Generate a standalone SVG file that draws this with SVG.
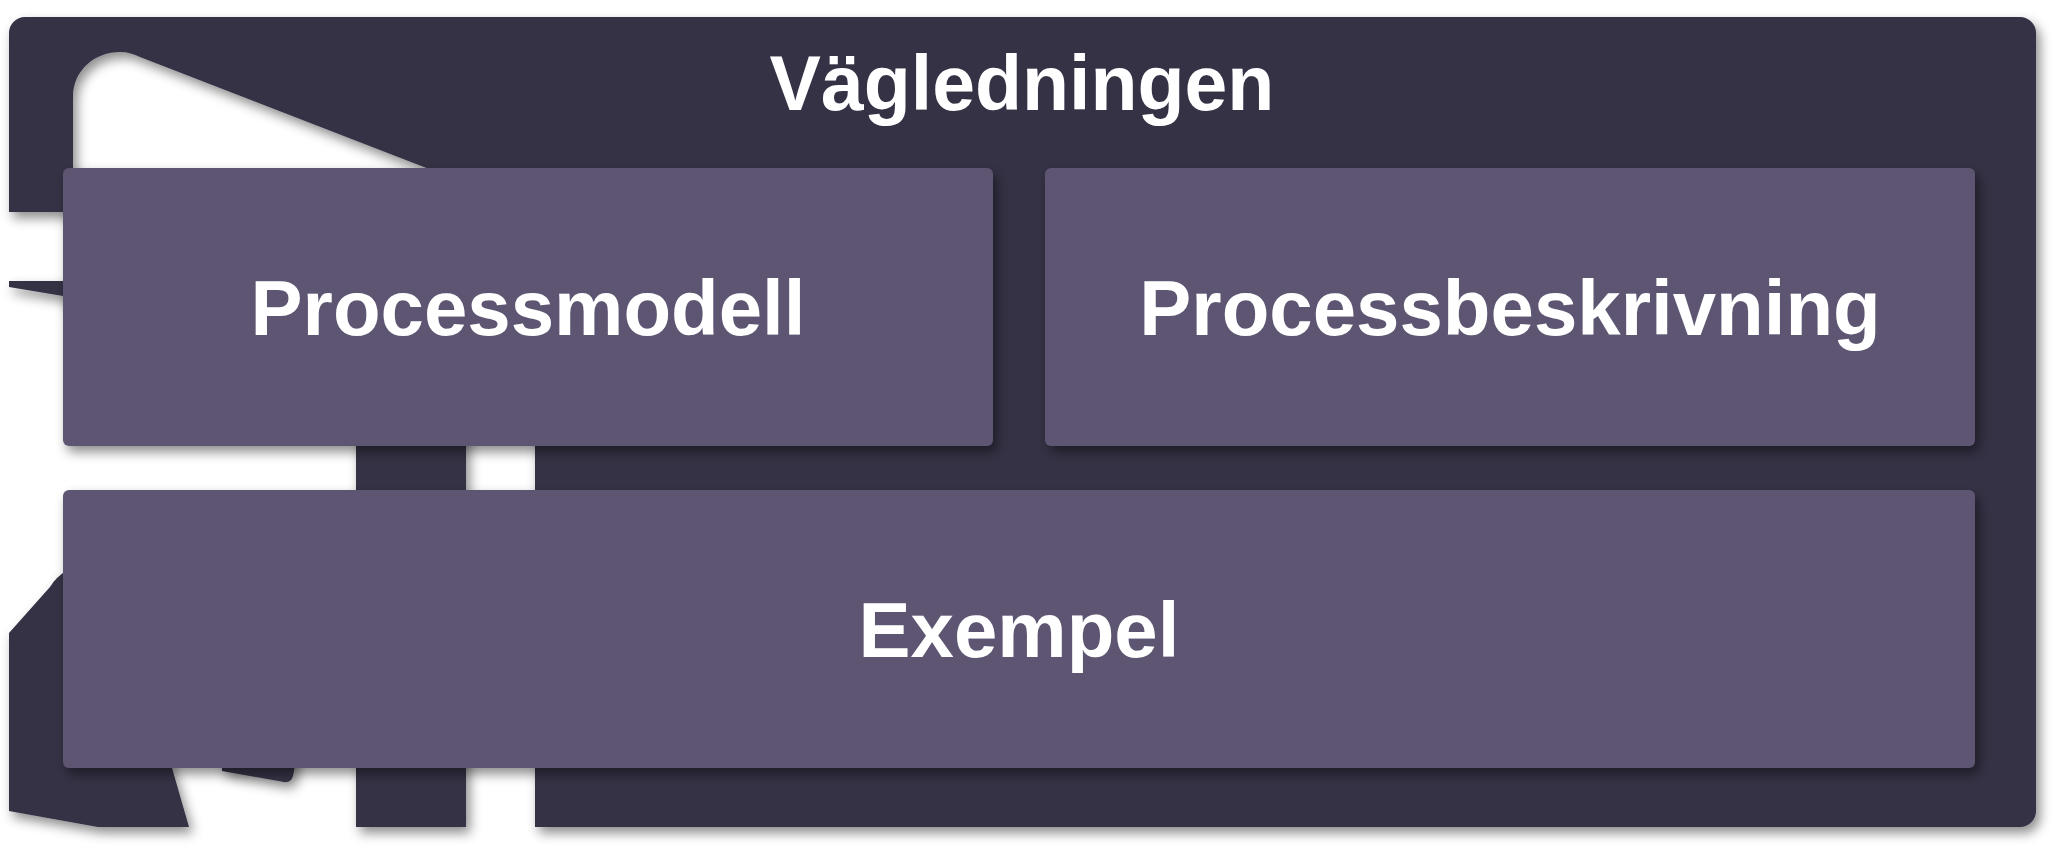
<svg xmlns="http://www.w3.org/2000/svg" width="2066" height="856" viewBox="0 0 2066 856">
<defs>
<filter id="sh" x="-10%" y="-10%" width="120%" height="130%">
<feDropShadow dx="4" dy="6" stdDeviation="6" flood-color="#000" flood-opacity="0.45"/>
</filter>
<style>
.dark{fill:#353045;}
.box{fill:#5D5472;}
.lbl{font-family:"Liberation Sans",Arial,sans-serif;font-weight:bold;fill:#FFFFFF;text-anchor:middle;}
</style>
</defs>
<rect width="2066" height="856" fill="#FFFFFF"/>
<g id="container">
<path class="dark" filter="url(#sh)" d="M 300,700 L 296,760 L 293,776 Q 291,783 284,782 L 222,771 L 222,700 L 152,700 L 172,768 L 189,827 H 98 L 9,811 V 633 L 50,587 Q 56,577 66,571 L 100,560 L 300,560 Z"/>
<path class="dark" filter="url(#sh)" fill-rule="evenodd" d="M 25,17 H 2020 A 16,16 0 0 1 2036,33 V 811 A 16,16 0 0 1 2020,827 H 535 V 300 H 466 V 827 H 356 V 300 L 100,400 L 63,296 L 9,287 V 281 H 100 L 100,250 L 63,212 H 9 V 33 A 16,16 0 0 1 25,17 Z M 73,200 V 97 C 73,70 95,52 120,52 C 128,52 134,54 140,57 L 460,181 L 460,200 Z"/>
<text class="lbl" x="1022" y="110" font-size="77">Vägledningen</text>
</g>
<g id="processmodell">
<rect class="box" filter="url(#sh)" x="63" y="168" width="930" height="278" rx="6"/>
<text class="lbl" x="528" y="335" font-size="78">Processmodell</text>
</g>
<g id="processbeskrivning">
<rect class="box" filter="url(#sh)" x="1045" y="168" width="930" height="278" rx="6"/>
<text class="lbl" x="1510" y="335" font-size="78">Processbeskrivning</text>
</g>
<g id="exempel">
<rect class="box" filter="url(#sh)" x="63" y="490" width="1912" height="278" rx="6"/>
<text class="lbl" x="1019" y="657" font-size="78">Exempel</text>
</g>
<g id="connectors"/>
</svg>
